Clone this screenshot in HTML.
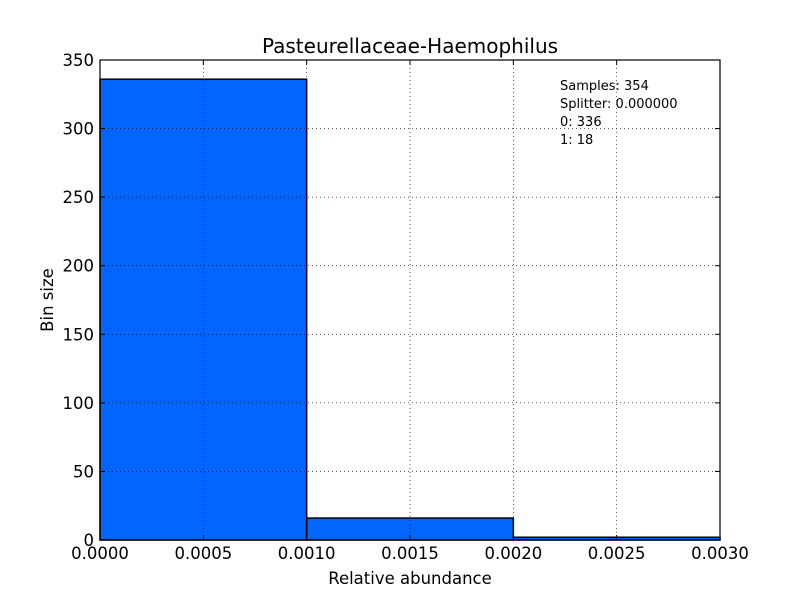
<!DOCTYPE html>
<html><head><meta charset="utf-8"><style>
body{margin:0;background:#fff;}
svg text{font-family:"DejaVu Sans","Liberation Sans",sans-serif;}
</style></head><body>
<svg id="c" width="800" height="600">
<rect width="800" height="600" fill="#fff"/>
</svg>
<script>
const binEdges=[0,0.001,0.002,0.003];
const counts=[336,16,2];
const xTicks=[0,0.0005,0.001,0.0015,0.002,0.0025,0.003];
const xTickLabels=["0.0000","0.0005","0.0010","0.0015","0.0020","0.0025","0.0030"];
const yTicks=[0,50,100,150,200,250,300,350];
const infoLines=["Samples: 354","Splitter: 0.000000","0: 336","1: 18"];
const L=100,R=720,T=60,B=540;
const xs=v=>L+(v-0)/(0.003)*(R-L);
const ys=v=>B-v/350*(B-T);
const svg=document.getElementById('c');
const NS='http://www.w3.org/2000/svg';
function mk(t,a,txt){const e=document.createElementNS(NS,t);for(const k in a)e.setAttribute(k,a[k]);if(txt!=null)e.textContent=txt;svg.appendChild(e);return e;}
counts.forEach((c,i)=>{
 const e=mk('rect',{x:xs(binEdges[i]),y:ys(c),width:xs(binEdges[i+1])-xs(binEdges[i]),height:B-ys(c),fill:'#0066ff',stroke:'#000','stroke-width':1.5});
 
 
});
xTicks.forEach((v,i)=>{
 const x=xs(v);
 const g=mk('line',{x1:x,x2:x,y1:T,y2:B,stroke:'#000','stroke-width':0.6,'stroke-dasharray':'1,3'});
 
 mk('line',{x1:x,x2:x,y1:B,y2:B-5,stroke:'#000'});
 mk('line',{x1:x,x2:x,y1:T,y2:T+5,stroke:'#000'});
 const t=mk('text',{x:x,y:B+19,'text-anchor':'middle','font-size':16.5},xTickLabels[i]);
 
});
yTicks.forEach(v=>{
 const y=ys(v);
 const g=mk('line',{x1:L,x2:R,y1:y,y2:y,stroke:'#000','stroke-width':0.6,'stroke-dasharray':'1,3'});
 
 mk('line',{x1:L,x2:L+5,y1:y,y2:y,stroke:'#000'});
 mk('line',{x1:R,x2:R-5,y1:y,y2:y,stroke:'#000'});
 const t=mk('text',{x:L-6,y:y+6,'text-anchor':'end','font-size':16.5},String(v));
 
});
const f=mk('rect',{x:L,y:T,width:R-L,height:B-T,fill:'none',stroke:'#000','stroke-width':1.2});

const ti=mk('text',{x:(L+R)/2,y:53,'text-anchor':'middle','font-size':20},'Pasteurellaceae-Haemophilus');

const xl=mk('text',{x:(L+R)/2,y:584,'text-anchor':'middle','font-size':16.5},'Relative abundance');

const yl=mk('text',{x:53,y:300,'text-anchor':'middle','font-size':16.5,transform:'rotate(-90 53 300)'},'Bin size');

infoLines.forEach((s,i)=>{
 const t=mk('text',{x:560,y:90+i*18,'font-size':13},s);
 
});
</script>
</body></html>
